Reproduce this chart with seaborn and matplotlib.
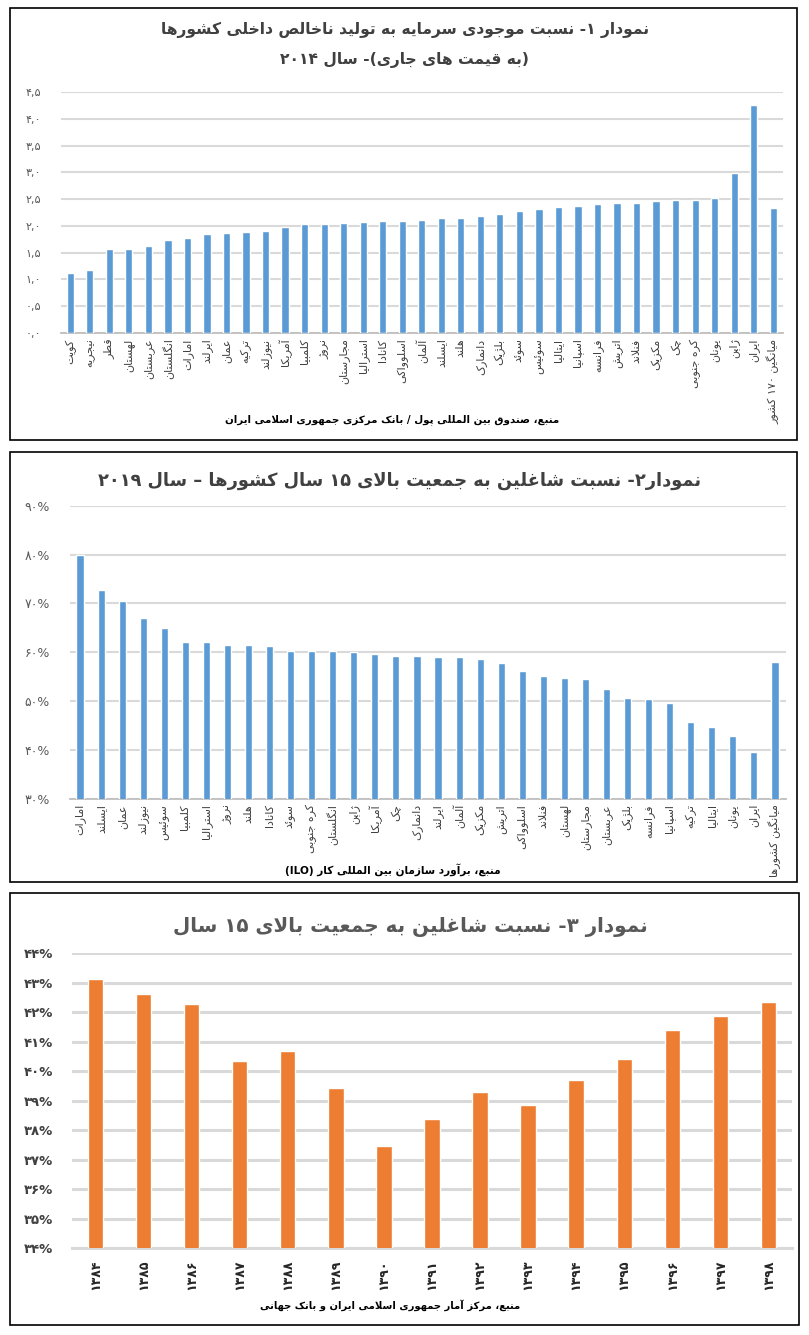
import re
import seaborn as sns
import matplotlib.pyplot as plt
import matplotlib.patches as patches
import numpy as np
import pandas as pd

## Chart 1: capital stock / GDP, 2014
countries_1 = ["کویت", "نیجریه", "قطر", "لهستان", "عربستان", "انگلستان", "امارات", "ایرلند",
               "عمان", "ترکیه", "نیوزلند", "آمریکا", "کلمبیا", "نروژ", "مجارستان", "استرالیا",
               "کانادا", "اسلوواکی", "آلمان", "ایسلند", "هلند", "دانمارک", "بلژیک", "سوئد",
               "سوئیس", "ایتالیا", "اسپانیا", "فرانسه", "اتریش", "فنلاند", "مکزیک", "چک",
               "کره جنوبی", "یونان", "ژاپن", "ایران", "میانگین ۱۷۰ کشور"]
capital_gdp = [1.12, 1.18, 1.57, 1.57, 1.63, 1.73, 1.78, 1.85, 1.87, 1.88, 1.91, 1.98,
               2.03, 2.04, 2.05, 2.07, 2.09, 2.09, 2.11, 2.14, 2.15, 2.18, 2.23, 2.27,
               2.32, 2.36, 2.37, 2.40, 2.43, 2.43, 2.47, 2.49, 2.49, 2.52, 2.99, 4.26, 2.34]
yticks_1 = [0.0, 0.5, 1.0, 1.5, 2.0, 2.5, 3.0, 3.5, 4.0, 4.5]

## Chart 2: employed / population 15+, 2019 (%)
countries_2 = ["امارات", "ایسلند", "عمان", "نیوزلند", "سوئیس", "کلمبیا", "استرالیا", "نروژ",
               "هلند", "کانادا", "سوئد", "کره جنوبی", "انگلستان", "ژاپن", "آمریکا", "چک",
               "دانمارک", "ایرلند", "آلمان", "مکزیک", "اتریش", "اسلوواکی", "فنلاند", "لهستان",
               "مجارستان", "عربستان", "بلژیک", "فرانسه", "اسپانیا", "ترکیه", "ایتالیا", "یونان",
               "ایران", "میانگین کشورها"]
employment_2019 = [80.0, 72.8, 70.4, 67.0, 65.0, 62.0, 62.0, 61.5, 61.5, 61.3, 60.2, 60.2,
                   60.2, 60.1, 59.6, 59.3, 59.1, 58.9, 58.9, 58.5, 57.8, 56.1, 55.1, 54.6,
                   54.4, 52.5, 50.5, 50.4, 49.5, 45.7, 44.6, 42.8, 39.5, 57.9]
yticks_2 = [30, 40, 50, 60, 70, 80, 90]

## Chart 3: Iran employed / population 15+ (%)
years_3 = ["۱۳۸۴", "۱۳۸۵", "۱۳۸۶", "۱۳۸۷", "۱۳۸۸", "۱۳۸۹", "۱۳۹۰", "۱۳۹۱",
           "۱۳۹۲", "۱۳۹۳", "۱۳۹۴", "۱۳۹۵", "۱۳۹۶", "۱۳۹۷", "۱۳۹۸"]
employment_iran = [43.13, 42.62, 42.28, 40.35, 40.69, 39.44, 37.47, 38.38,
                   39.30, 38.86, 39.71, 40.42, 41.40, 41.87, 42.35]
yticks_3 = [34, 35, 36, 37, 38, 39, 40, 41, 42, 43, 44]

title_1a = "نمودار ۱- نسبت موجودی سرمایه به تولید ناخالص داخلی کشورها"
title_1b = "(به قیمت های جاری)- سال ۲۰۱۴"
source_1 = "منبع، صندوق بین المللی پول / بانک مرکزی جمهوری اسلامی ایران"
title_2 = "نمودار۲- نسبت شاغلین به جمعیت بالای ۱۵ سال کشورها – سال ۲۰۱۹"
source_2 = "منبع، برآورد سازمان بین المللی کار (ILO)"
title_3 = "نمودار ۳- نسبت شاغلین به جمعیت بالای ۱۵ سال"
source_3 = "منبع، مرکز آمار جمهوری اسلامی ایران و بانک جهانی"

BLUE = "#5B9BD5"
ORANGE = "#ED7D31"

#--Minimal arabic shaping (matplotlib does no text shaping / bidi)
FORMS = {
    '\u0621': (0xFE80, 1), '\u0622': (0xFE81, 2), '\u0623': (0xFE83, 2), '\u0624': (0xFE85, 2),
    '\u0625': (0xFE87, 2), '\u0626': (0xFE89, 4), '\u0627': (0xFE8D, 2), '\u0628': (0xFE8F, 4),
    '\u0629': (0xFE93, 2), '\u062A': (0xFE95, 4), '\u062B': (0xFE99, 4), '\u062C': (0xFE9D, 4),
    '\u062D': (0xFEA1, 4), '\u062E': (0xFEA5, 4), '\u062F': (0xFEA9, 2), '\u0630': (0xFEAB, 2),
    '\u0631': (0xFEAD, 2), '\u0632': (0xFEAF, 2), '\u0633': (0xFEB1, 4), '\u0634': (0xFEB5, 4),
    '\u0635': (0xFEB9, 4), '\u0636': (0xFEBD, 4), '\u0637': (0xFEC1, 4), '\u0638': (0xFEC5, 4),
    '\u0639': (0xFEC9, 4), '\u063A': (0xFECD, 4), '\u0641': (0xFED1, 4), '\u0642': (0xFED5, 4),
    '\u0643': (0xFED9, 4), '\u0644': (0xFEDD, 4), '\u0645': (0xFEE1, 4), '\u0646': (0xFEE5, 4),
    '\u0647': (0xFEE9, 4), '\u0648': (0xFEED, 2), '\u0649': (0xFEEF, 2), '\u064A': (0xFEF1, 4),
    '\u067E': (0xFB56, 4), '\u0686': (0xFB7A, 4), '\u0698': (0xFB8A, 2), '\u06A9': (0xFB8E, 4),
    '\u06AF': (0xFB92, 4), '\u06CC': (0xFBFC, 4),
    '\uFEFB': (0xFEFB, 2), '\uFEF5': (0xFEF5, 2),
}


def shape(s):
    s = s.replace('لا', '\uFEFB').replace('لآ', '\uFEF5')
    out = []
    for i, c in enumerate(s):
        if c not in FORMS:
            out.append(c)
            continue
        base, k = FORMS[c]
        prev = s[i - 1] if i > 0 else ''
        nxt = s[i + 1] if i + 1 < len(s) else ''
        jp = prev in FORMS and FORMS[prev][1] == 4
        jn = k == 4 and nxt in FORMS
        f = 3 if (jp and jn) else 1 if jp else 2 if jn else 0
        if k == 1:
            f = 0
        out.append(chr(base + f))
    return ''.join(out)


LTR = r'[0-9A-Za-z\u06F0-\u06F9]'


def rtl(s):
    s = shape(s)
    runs = re.findall(LTR + r'+|[^0-9A-Za-z\u06F0-\u06F9]+', s)
    out = []
    for r in reversed(runs):
        if re.match(LTR, r):
            out.append(r)
        else:
            out.append(r[::-1].translate(str.maketrans('()', ')(')))
    return ''.join(out)


def fa(s):
    return str(s).translate(str.maketrans('0123456789', '۰۱۲۳۴۵۶۷۸۹'))


sns.set_style("white")
plt.rcParams['font.family'] = ['DejaVu Sans']

W, H = 809, 1335
fig = plt.figure(figsize=(W / 100, H / 100), dpi=100)


def rect(l, t, r, b):
    return [l / W, 1 - b / H, (r - l) / W, (b - t) / H]


def fx(x):
    return x / W


def fy(y):
    return 1 - y / H


def bars(ax, names, values, color, width, ylim, yticks, ylabels, grid_lw, boundary_ticks):
    df = pd.DataFrame({"name": names, "value": values})
    sns.barplot(data=df, x="name", y="value", color=color, saturation=1,
                width=width, ax=ax, zorder=3)
    n = len(names)
    ax.set_xlim(-0.5, n - 0.5)
    ax.set_ylim(*ylim)
    ax.set_xlabel("")
    ax.set_ylabel("")
    ax.set_yticks(yticks)
    ax.set_yticklabels(ylabels)
    ax.set_xticks(range(n))
    ax.set_xticklabels([rtl(x) for x in names], rotation=90)
    for s in ["top", "right", "left"]:
        ax.spines[s].set_visible(False)
    ax.spines["bottom"].set_color("#BFBFBF")
    ax.spines["bottom"].set_linewidth(1.3)
    ax.yaxis.grid(True, color="#D9D9D9", lw=grid_lw)
    ax.set_axisbelow(True)
    ax.tick_params(axis='y', length=0, pad=14)
    ax.tick_params(axis='x', which='major', length=0, pad=4)
    if boundary_ticks:
        ax.set_xticks(np.arange(-0.5, n), minor=True)
        ax.tick_params(axis='x', which='minor', length=4, color="#BFBFBF", width=1)
    ax.patch.set_alpha(0)


#--Panel borders
for (l, t, r, b) in [(10, 8, 797, 440), (10, 452, 797, 882), (10, 893, 799, 1325)]:
    fig.add_artist(patches.Rectangle((fx(l), fy(b)), (r - l) / W, (b - t) / H,
                                     transform=fig.transFigure, fill=False,
                                     edgecolor="black", lw=1.2))

#--Chart 1
ax1 = fig.add_axes(rect(60.5, 92, 783, 333))
bars(ax1, countries_1, capital_gdp, BLUE, 0.37, (0, 4.5), yticks_1,
     [fa(f"{v:.1f}").replace('.', ',') for v in yticks_1], 1.5, True)
ax1.tick_params(axis='y', labelsize=8, labelcolor="#595959")
ax1.tick_params(axis='x', labelsize=8, labelcolor="#404040")
fig.text(fx(405), fy(30), rtl(title_1a), ha="center", va="center", fontsize=11.2,
         fontweight="bold", color="#404040")
fig.text(fx(405), fy(60), rtl(title_1b), ha="center", va="center", fontsize=11.2,
         fontweight="bold", color="#404040")
fig.text(fx(392), fy(420), rtl(source_1), ha="center", va="center", fontsize=7.4,
         fontweight="bold", color="black")

#--Chart 2
ax2 = fig.add_axes(rect(69.5, 505.7, 785.5, 798.5))
bars(ax2, countries_2, employment_2019, BLUE, 0.34, (30, 90), yticks_2,
     [fa(v) + "%" for v in yticks_2], 1.5, True)
ax2.tick_params(axis='y', labelsize=9, labelcolor="#595959")
ax2.tick_params(axis='x', labelsize=8, labelcolor="#404040")
fig.text(fx(400), fy(481), rtl(title_2), ha="center", va="center", fontsize=12.8,
         fontweight="bold", color="#404040")
fig.text(fx(393), fy(870), rtl(source_2), ha="center", va="center", fontsize=7.6,
         fontweight="bold", color="black")

#--Chart 3
ax3 = fig.add_axes(rect(71.5, 953.3, 792.4, 1248.3))
bars(ax3, years_3, employment_iran, ORANGE, 0.32, (34, 44), yticks_3,
     [fa(v) + "%" for v in yticks_3], 2.2, False)
ax3.spines["bottom"].set_color("#D9D9D9")
ax3.spines["bottom"].set_linewidth(2.2)
ax3.tick_params(axis='y', labelsize=9.5, labelcolor="#404040", pad=13)
ax3.tick_params(axis='x', labelsize=9, labelcolor="#262626", pad=8)
for lab in ax3.get_yticklabels() + ax3.get_xticklabels():
    lab.set_fontweight("bold")
fig.text(fx(410), fy(927), rtl(title_3), ha="center", va="center", fontsize=14.3,
         fontweight="bold", color="#595959")
fig.text(fx(390), fy(1305), rtl(source_3), ha="center", va="center", fontsize=7.2,
         fontweight="bold", color="black")

fig.savefig("out.png", dpi=100, facecolor="white")
plt.close()
